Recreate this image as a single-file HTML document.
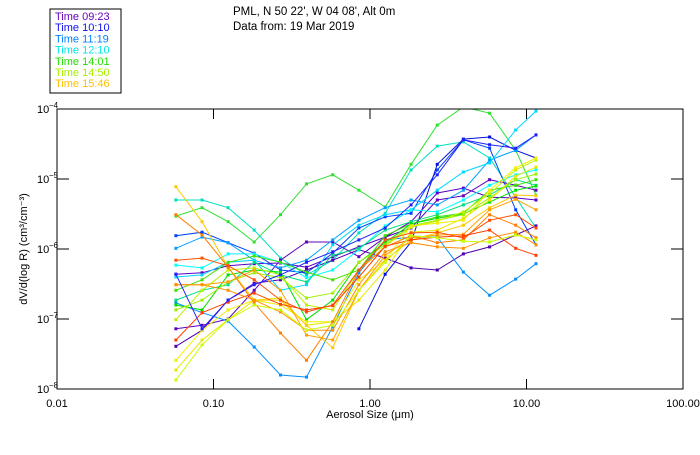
<!DOCTYPE html>
<html><head><meta charset="utf-8"><style>
body{margin:0;background:#fff;width:700px;height:450px;overflow:hidden}
svg{font-family:"Liberation Sans",sans-serif}
</style></head><body>
<svg id="chart" width="700" height="450" xmlns="http://www.w3.org/2000/svg">
<rect x="50" y="9" width="71" height="84" fill="#fff" stroke="#000"/>
<g id="legend" font-size="11"></g>
<text x="233" y="15" font-size="11.5">PML, N 50 22', W 04 08', Alt 0m</text>
<text x="233" y="30" font-size="11.5">Data from: 19 Mar 2019</text>
<clipPath id="pc"><rect x="57" y="109" width="626" height="280"/></clipPath>
<g id="series" clip-path="url(#pc)"></g>
<rect x="57" y="109" width="626" height="280" fill="none" stroke="#000"/>
<g id="axes" font-size="11"></g>
<text x="370" y="418" font-size="11" text-anchor="middle">Aerosol Size (μm)</text>
<text transform="translate(27,249) rotate(-90)" font-size="11" text-anchor="middle">dV/d(log R) (cm³/cm⁻³)</text>
</svg>
<script>
const xTickLabels=["0.01","0.10","1.00","10.00","100.00"];
const yTickExps=[-4,-5,-6,-7,-8];
const legendLabels=["Time 09:23","Time 10:10","Time 11:19","Time 12:10","Time 14:01","Time 14:50","Time 15:46"];
const legendColors=["#6a00c0","#1010f0","#0080ff","#00e8e8","#20e000","#a8f000","#ffc000"];
// sizes in µm (log-spaced 0.0575 .. 11.5)
const sizeUm=[0.0575,0.0845,0.124,0.182,0.268,0.393,0.578,0.849,1.25,1.83,2.69,3.95,5.81,8.53,11.5];
const seriesColors=["#30e030","#00e0c0","#0040ff","#0010e0","#6000c0","#5a00c8","#5000b0","#0090ff","#00a0ff","#00d8ff","#00ffff","#00e080","#40e000","#00e000","#a0f000","#c0f000","#f0f000","#e8e800","#ffc800","#ffa000","#ff8000","#ff5000","#ff4000","#ff9000","#c8ff00","#2020ff"];
const s1=[-5.53,-5.41,-5.61,-5.90,-5.51,-5.07,-4.94,-5.16,-5.40,-4.79,-4.23,-3.97,-4.06,-4.59,-5.23];
const s2=[-5.30,-5.30,-5.41,-5.73,-6.13,-6.37,-6.16,-5.77,-5.49,-4.87,-4.53,-4.47,-4.70,-5.26,-5.70];
const s3=[-5.81,-5.76,-5.91,-6.06,-6.30,-6.34,-6.06,-5.70,-5.54,-5.49,-4.87,-4.44,-4.56,-5.44,-5.94];
const s4=[null,null,null,null,null,null,null,-7.14,-6.36,-5.90,-4.79,-4.43,-4.40,-4.59,-4.70];
const s5=[-7.14,-7.09,-7.00,-6.59,-6.16,-5.90,-5.90,-6.11,-5.83,-5.70,-5.30,-5.24,-5.01,-5.09,-5.16];
const s6=[-6.36,-6.34,-6.24,-6.21,-6.20,-6.26,-6.11,-5.97,-5.83,-5.61,-5.20,-5.13,-5.26,-5.27,-5.30];
const s7=[-7.39,-7.16,-6.73,-6.49,-6.44,-6.30,-6.16,-6.01,-6.13,-6.27,-6.30,-6.07,-5.97,-5.80,-5.67];
const s8=[-6.77,-6.91,-7.03,-7.40,-7.80,-7.83,-7.11,-6.34,-5.87,-5.83,-5.83,-6.33,-6.66,-6.43,-6.21];
const s9=[-5.99,-5.83,-5.91,-6.16,-6.27,-6.16,-5.87,-5.59,-5.41,-5.30,-5.37,-5.16,-4.73,-4.59,-4.37];
const s10=[-6.40,-6.37,-6.19,-6.16,-6.59,-6.51,-5.94,-5.66,-5.51,-5.44,-5.16,-4.90,-4.77,-4.30,-4.03];
const s11=[-6.23,-6.27,-6.07,-6.07,-6.19,-6.41,-6.30,-6.01,-5.67,-5.44,-5.47,-5.30,-5.09,-4.94,-4.87];
const s12=[-6.73,-6.59,-6.51,-6.19,-6.37,-6.47,-6.09,-5.99,-5.73,-5.61,-5.51,-5.37,-5.23,-5.01,-5.09];
const s13=[-6.59,-6.44,-6.19,-6.10,-6.19,-6.33,-6.44,-6.30,-5.81,-5.64,-5.54,-5.49,-5.16,-5.09,-5.01];
const s14=[-6.80,-6.87,-6.37,-6.30,-6.33,-7.01,-6.73,-6.19,-5.91,-5.64,-5.56,-5.50,-5.33,-5.16,-5.10];
const s15=[-6.87,-6.73,-6.47,-6.34,-6.41,-6.70,-6.63,-6.19,-5.94,-5.67,-5.59,-5.51,-5.27,-5.01,-4.93];
const s16=[-7.01,-6.59,-6.30,-6.27,-6.37,-6.80,-6.87,-6.30,-5.96,-5.69,-5.60,-5.47,-5.21,-4.87,-4.73];
const s17=[-7.59,-7.16,-6.87,-6.73,-6.80,-7.04,-7.04,-6.44,-6.16,-5.67,-5.63,-5.59,-5.16,-4.84,-4.70];
const s18=[-7.73,-7.30,-7.01,-6.73,-6.70,-7.09,-7.04,-6.73,-6.30,-5.76,-5.73,-5.56,-5.30,-4.96,-4.83];
const s19=[-5.11,-5.61,-6.26,-6.73,-6.73,-7.09,-7.41,-6.59,-6.16,-5.87,-5.77,-5.66,-5.41,-5.23,-5.24];
const s20=[-6.51,-6.51,-6.47,-6.30,-6.59,-7.23,-7.30,-6.59,-6.09,-5.84,-5.80,-5.79,-5.44,-5.29,-5.44];
const s21=[-5.51,-5.80,-6.26,-6.77,-7.20,-7.59,-7.04,-6.30,-5.97,-5.81,-5.91,-5.87,-5.51,-5.66,-5.84];
const s22=[-6.16,-6.13,-6.24,-6.44,-6.73,-6.90,-6.80,-6.30,-5.87,-5.77,-5.76,-5.84,-5.59,-5.51,-5.70];
const s23=[-7.30,-6.91,-6.76,-6.63,-6.79,-6.87,-6.81,-6.40,-5.96,-5.87,-5.83,-5.81,-5.73,-5.99,-6.09];
const s24=[-6.51,-6.51,-6.59,-6.73,-6.90,-7.16,-7.16,-6.51,-6.04,-5.91,-5.97,-5.99,-5.84,-5.76,-5.94];
const s25=[-7.87,-7.37,-7.01,-6.80,-6.87,-7.16,-7.09,-6.59,-6.19,-5.81,-5.84,-5.89,-5.90,-5.80,-5.87];
const s26=[-6.36,-7.14,-6.73,-6.51,-6.37,-6.19,-6.04,-5.87,-5.70,-5.37,-4.94,-4.44,-4.51,-4.56,-4.37];
const allSeries=[s1,s2,s3,s4,s5,s6,s7,s8,s9,s10,s11,s12,s13,s14,s15,s16,s17,s18,s19,s20,s21,s22,s23,s24,s25,s26];

const NS="http://www.w3.org/2000/svg";
const X0=57,X1=683,Y0=109,Y1=389;
function xScale(v){return X0+(Math.log10(v)+2)/4*(X1-X0);}
function yScale(e){return Y0+(-4-e)/4*(Y1-Y0);}
function mk(tag,attrs,parent){const el=document.createElementNS(NS,tag);for(const k in attrs)el.setAttribute(k,attrs[k]);parent.appendChild(el);return el;}

const leg=document.getElementById('legend');
legendLabels.forEach((l,i)=>{
  const t=mk('text',{x:55,y:20+i*11.2,fill:legendColors[i]},leg);
  t.textContent=l;
  
  
});

const sg=document.getElementById('series');
allSeries.forEach((s,si)=>{
  const c=seriesColors[si];
  const g=mk('g',{},sg);
  
  
  let pts=[];
  s.forEach((e,i)=>{if(e!==null)pts.push([xScale(sizeUm[i]),yScale(e)]);});
  mk('polyline',{points:pts.map(p=>p[0].toFixed(1)+','+p[1].toFixed(1)).join(' '),fill:'none',stroke:c,'stroke-width':1},g);
  pts.forEach(p=>{
    const r=mk('rect',{x:p[0]-1.5,y:p[1]-1.5,width:3,height:3,fill:c},g);
    
    
  });
});

const ax=document.getElementById('axes');
xTickLabels.forEach((l,i)=>{
  const x=X0+i*(X1-X0)/4;
  if(i>0&&i<4){
    mk('line',{x1:x,x2:x,y1:Y1,y2:Y1-10,stroke:'#000'},ax);
    mk('line',{x1:x,x2:x,y1:Y0,y2:Y0+10,stroke:'#000'},ax);
  }
  const t=mk('text',{x:x,y:407,'text-anchor':'middle'},ax);
  t.textContent=l;
  
  
});
yTickExps.forEach((e,i)=>{
  const y=yScale(e);
  if(i>0&&i<4){
    mk('line',{x1:X0,x2:X0+12,y1:y,y2:y,stroke:'#000'},ax);
    mk('line',{x1:X1,x2:X1-12,y1:y,y2:y,stroke:'#000'},ax);
  }
  const t=mk('text',{x:37,y:y+4,'text-anchor':'start'},ax);
  t.textContent='10';
  
  
  const s=mk('text',{x:49,y:y-1,'font-size':8},ax);
  s.textContent=String(e).replace('-','−');
  
  
});
</script>
</body></html>
